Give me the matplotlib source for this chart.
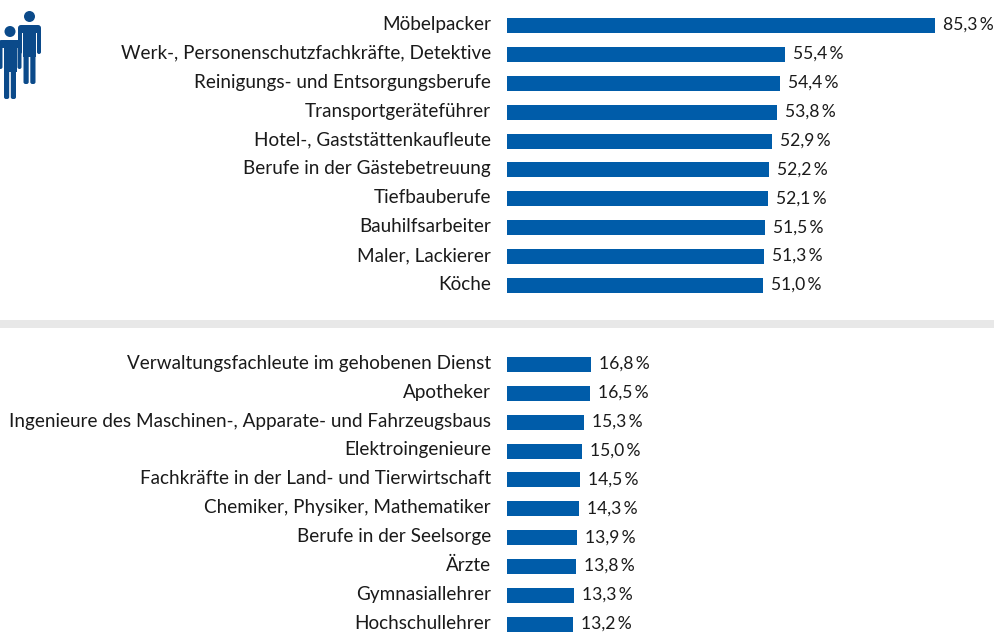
import matplotlib
matplotlib.use("Agg")
import matplotlib.pyplot as plt
from matplotlib.patches import Rectangle, Circle, FancyBboxPatch

W, H = 994, 633

top_labels = ["Möbelpacker", "Werk-, Personenschutzfachkräfte, Detektive", "Reinigungs- und Entsorgungsberufe",
              "Transportgeräteführer", "Hotel-, Gaststättenkaufleute", "Berufe in der Gästebetreuung",
              "Tiefbauberufe", "Bauhilfsarbeiter", "Maler, Lackierer", "Köche"]
top_values = [85.3, 55.4, 54.4, 53.8, 52.9, 52.2, 52.1, 51.5, 51.3, 51.0]
bottom_labels = ["Verwaltungsfachleute im gehobenen Dienst", "Apotheker",
                 "Ingenieure des Maschinen-, Apparate- und Fahrzeugsbaus", "Elektroingenieure",
                 "Fachkräfte in der Land- und Tierwirtschaft", "Chemiker, Physiker, Mathematiker",
                 "Berufe in der Seelsorge", "Ärzte", "Gymnasiallehrer", "Hochschullehrer"]
bottom_values = [16.8, 16.5, 15.3, 15.0, 14.5, 14.3, 13.9, 13.8, 13.3, 13.2]

blue = "#005ca9"
icon_blue = "#0b4a8a"
plt.rcParams["font.family"] = ["Lato", "DejaVu Sans"]

fig = plt.figure(figsize=(W / 100, H / 100), dpi=100)
ax = fig.add_axes([0, 0, 1, 1])
ax.set_xlim(0, W)
ax.set_ylim(H, 0)
ax.axis("off")

# x pixels per percent point
x0 = 507
scale = (935 - x0) / 85.3
bar_h = 15


def draw_group(labels, values, y_start, step):
    for i, (lab, val) in enumerate(zip(labels, values)):
        y = y_start + i * step
        w = val * scale
        ax.add_patch(Rectangle((x0, y - bar_h / 2), w, bar_h, color=blue, lw=0))
        ax.text(491, y + 4.5, lab, ha="right", va="baseline", fontsize=13.6, color="#1a1a1a")
        txt = f"{val:.1f}".replace(".", ",") + "\u2009%"
        ax.text(x0 + w + 8, y + 4.5, txt, ha="left", va="baseline", fontsize=12.6, color="#1a1a1a")


draw_group(top_labels, top_values, 25.4, 28.9)
draw_group(bottom_labels, bottom_values, 364.3, 28.9)

# grey divider
ax.add_patch(Rectangle((0, 320), W, 7.5, color="#e8e8e8", lw=0))


# people icon
def person(cx, top):
    ax.add_patch(Circle((cx, top + 5.5), 5.5, color=icon_blue, lw=0))
    # shoulders and torso
    ax.add_patch(FancyBboxPatch((cx - 11.5, top + 14), 23, 8,
                                boxstyle="round,pad=0,rounding_size=3", color=icon_blue, lw=0))
    ax.add_patch(Rectangle((cx - 6.5, top + 16), 13, 30, color=icon_blue, lw=0))
    # arms
    ax.add_patch(FancyBboxPatch((cx - 11.5, top + 18), 4, 25,
                                boxstyle="round,pad=0,rounding_size=2", color=icon_blue, lw=0))
    ax.add_patch(FancyBboxPatch((cx + 7.5, top + 18), 4, 25,
                                boxstyle="round,pad=0,rounding_size=2", color=icon_blue, lw=0))
    # legs
    ax.add_patch(FancyBboxPatch((cx - 6, top + 40), 5.2, 33,
                                boxstyle="round,pad=0,rounding_size=2", color=icon_blue, lw=0))
    ax.add_patch(FancyBboxPatch((cx + 0.8, top + 40), 5.2, 33,
                                boxstyle="round,pad=0,rounding_size=2", color=icon_blue, lw=0))


person(29.5, 11)
person(10, 26)

fig.savefig("out.png", dpi=100)
